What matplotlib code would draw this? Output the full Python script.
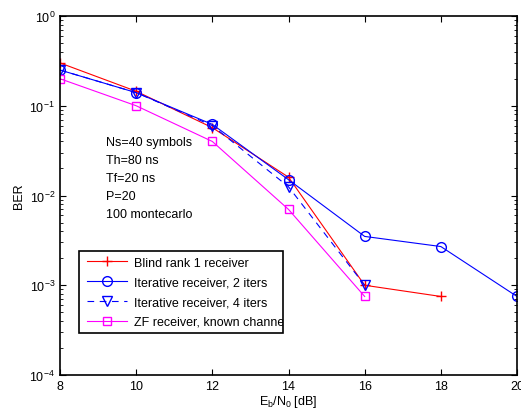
import matplotlib
matplotlib.use("Agg")
import matplotlib.pyplot as plt
from matplotlib.patches import Rectangle

plt.rcParams['font.family'] = ['Liberation Sans', 'DejaVu Sans']
plt.rcParams['mathtext.fontset'] = 'custom'
plt.rcParams['mathtext.rm'] = 'Liberation Sans'
plt.rcParams['mathtext.it'] = 'Liberation Sans'

snr_blind = [8, 10, 12, 14, 16, 18]
ber_blind = [0.30, 0.145, 0.057, 0.016, 0.00100, 0.00075]
snr_it2 = [8, 10, 12, 14, 16, 18, 20]
ber_it2 = [0.25, 0.14, 0.062, 0.015, 0.0035, 0.0027, 0.00075]
snr_it4 = [8, 10, 12, 14, 16]
ber_it4 = [0.25, 0.14, 0.060, 0.0125, 0.00100]
snr_zf = [8, 10, 12, 14, 16]
ber_zf = [0.20, 0.10, 0.040, 0.0070, 0.00075]
labels = ["Blind rank 1 receiver", "Iterative receiver, 2 iters",
          "Iterative receiver, 4 iters", "ZF receiver, known channel"]
info = ["Ns=40 symbols", "Th=80 ns", "Tf=20 ns", "P=20", "100 montecarlo"]
xticks = [8, 10, 12, 14, 16, 18, 20]

FS = 9
fig = plt.figure(figsize=(5.21, 4.14), dpi=100)
ax = fig.add_axes([60/521, 1-376/414, (517-60)/521, (376-17)/414])

lw = 0.8
ms = 7
h1, = ax.semilogy(snr_blind, ber_blind, color='red', marker='+', lw=lw, ms=ms)
h2, = ax.semilogy(snr_it2, ber_it2, color='blue', marker='o', lw=lw, ms=ms, mfc='none')
h3, = ax.semilogy(snr_it4, ber_it4, color='blue', marker='v', lw=lw, ms=ms, mfc='none',
                  ls=(0, (6, 5)))
h4, = ax.semilogy(snr_zf, ber_zf, color='magenta', marker='s', lw=lw, ms=6, mfc='none')

ax.set_xlim(8, 20)
ax.set_ylim(1e-4, 1)
ax.set_xticks(xticks)
ax.set_xticklabels([str(t) for t in xticks])
ax.tick_params(which='both', direction='in', top=True, right=True, labelsize=FS)
ax.tick_params(which='major', length=4)
ax.tick_params(which='minor', length=2)
for s in ax.spines.values():
    s.set_linewidth(1.2)
ax.set_ylabel("BER", fontsize=FS, labelpad=3)
ax.set_xlabel(r"E$_\mathregular{b}$/N$_\mathregular{0}$ [dB]", fontsize=FS, labelpad=1)

for i, t in enumerate(info):
    ax.text(106, 414 - (143 + 18*i), t, transform=None, fontsize=FS,
            va='center', ha='left')

leg = ax.legend([h1, h2, h3, h4], labels, loc='upper left', frameon=False,
                bbox_to_anchor=(81/521, 1-252/414), bbox_transform=fig.transFigure,
                fontsize=FS, handlelength=3.2, handletextpad=0.55,
                labelspacing=0.62, borderpad=0.45, borderaxespad=0)
rect = Rectangle((79, 414-334), 283-79, 334-252, transform=None,
                 fill=True, facecolor='white', edgecolor='black', lw=1.2,
                 zorder=4, clip_on=False)
ax.add_artist(rect)
leg.set_zorder(5)
fig.canvas.draw()
bb = rect.get_window_extent()
for t in leg.get_texts():
    t.set_clip_box(bb)
    t.set_clip_on(True)

fig.savefig("out.png", dpi=100)
